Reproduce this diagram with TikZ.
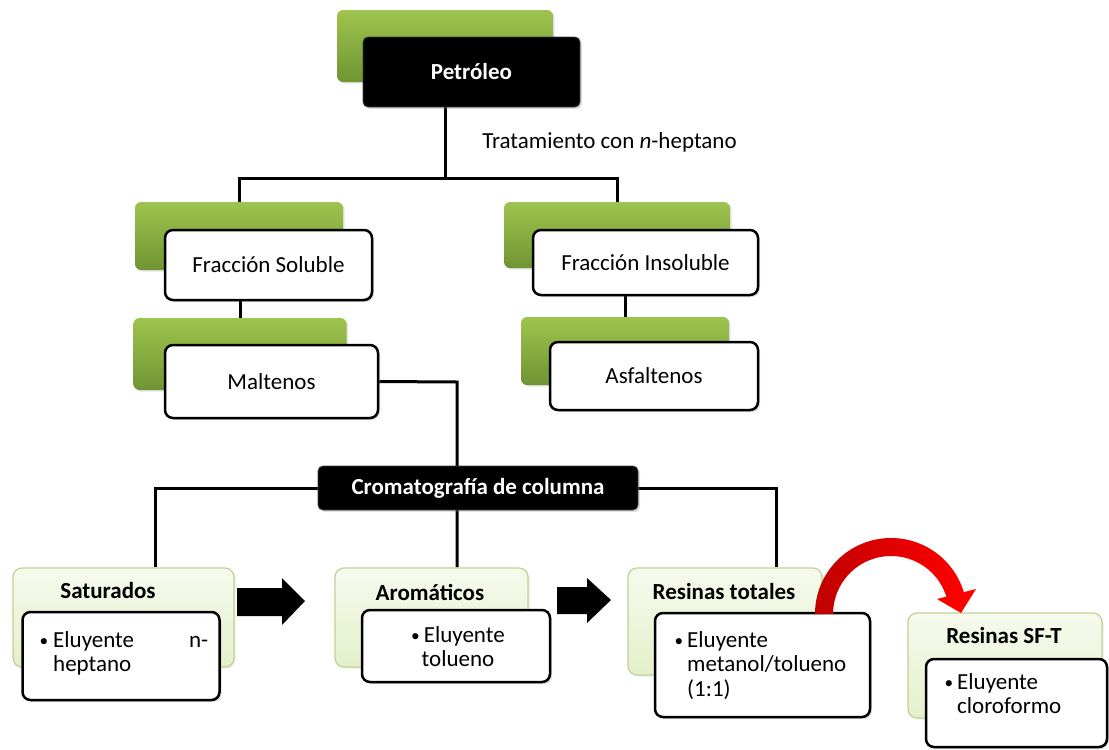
\documentclass[tikz,border=0pt]{standalone}
\usepackage{fontspec}
\setmainfont{Carlito}
\usetikzlibrary{backgrounds,shadows}
\definecolor{gtop}{RGB}{158,196,78}
\definecolor{gbot}{RGB}{112,148,50}
\definecolor{lgtop}{RGB}{246,250,238}
\definecolor{lgbot}{RGB}{228,240,202}
\definecolor{lgdraw}{RGB}{190,212,145}
\definecolor{rdark}{RGB}{192,0,0}
\definecolor{rbright}{RGB}{255,0,0}
\newcommand{\smbullet}{\raisebox{0.5pt}{\scalebox{0.75}{\textbullet}}}
\begin{document}
\begin{tikzpicture}[x=1pt,y=-1pt,
  every node/.style={font=\fontsize{23}{24.5}\selectfont, inner sep=0pt},
  greenback/.style={rounded corners=6pt, top color=gtop, bottom color=gbot, draw=none,
    drop shadow={shadow xshift=1.5pt,shadow yshift=-1.5pt,opacity=0.2}},
  frontbox/.style={draw=black, line width=2.5pt, fill=white, rounded corners=8pt,
    drop shadow={shadow xshift=2pt,shadow yshift=-2pt,opacity=0.25}},
  blackbox/.style={fill=black, draw=black!75, line width=0.8pt, rounded corners=5pt, text=white,
    font=\fontsize{23}{24.5}\selectfont\bfseries,
    drop shadow={shadow xshift=2pt,shadow yshift=-2pt,opacity=0.25}},
  lightbox/.style={draw=lgdraw, line width=1.2pt, top color=lgtop, bottom color=lgbot, rounded corners=9pt,
    drop shadow={shadow xshift=1.5pt,shadow yshift=-1.5pt,opacity=0.15}},
  titletext/.style={font=\fontsize{23}{24.5}\selectfont\bfseries},
  conn/.style={line width=3pt, black},
  itemtext/.style={anchor=north west, align=left},
]
\useasboundingbox (0,0) rectangle (1109,750);

% --- Petroleo
\node[greenback, minimum width=216, minimum height=72] (petB) at (445,46) {};
\node[blackbox, minimum width=217, minimum height=70] (pet) at (471.5,72) {Petróleo};
\node (trat) at (609.5,142) {Tratamiento con \textit{n}-heptano};
\coordinate (j1) at (445,178);

% --- Fraccion soluble / insoluble
\node[greenback, minimum width=208, minimum height=68] (fsB) at (239,236) {};
\node[frontbox, minimum width=207, minimum height=70] (fs) at (268.5,265) {Fracción Soluble};
\node[greenback, minimum width=226, minimum height=66] (fiB) at (617,235) {};
\node[frontbox, minimum width=225, minimum height=65] (fi) at (645.5,262.5) {Fracción Insoluble};

% --- Maltenos / Asfaltenos
\node[greenback, minimum width=213, minimum height=72] (mB) at (240,354) {};
\node[frontbox, minimum width=213, minimum height=73] (m) at (271.5,381.5) {Maltenos};
\node[greenback, minimum width=208, minimum height=68] (aB) at (625,351) {};
\node[frontbox, minimum width=208, minimum height=68] (a) at (654,376) {Asfaltenos};
\coordinate (j2) at (457,382);

% --- Cromatografia
\node[blackbox, minimum width=320, minimum height=44] (crom) at (478,488) {Cromatografía de columna};
\coordinate (jl) at (155,488);
\coordinate (jr) at (776,488);

% --- Saturados
\node[lightbox, minimum width=221, minimum height=99] (satB) at (123.5,617.5) {};
\node[titletext] (satT) at (108,591) {Saturados};
\node[frontbox, minimum width=197, minimum height=88] (sat) at (121,656) {};
\node[itemtext] (satX) at (53,631) {\llap{\smbullet\hspace{5pt}}\makebox[155pt][l]{Eluyente\hfill n-}\\heptano};

% --- Aromaticos
\node[lightbox, minimum width=193, minimum height=99] (arB) at (431.5,617.5) {};
\node[titletext] (arT) at (430,592) {Aromáticos};
\node[frontbox, minimum width=188, minimum height=72] (ar) at (456,646) {};
\node[anchor=north, align=center] (arX) at (458,626) {\smbullet\hspace{4pt}Eluyente\\tolueno};

% --- Resinas totales
\node[lightbox, minimum width=194, minimum height=107] (rtB) at (725,621.5) {};
\node[titletext] (rtT) at (724,592) {Resinas totales};
\node[frontbox, minimum width=215, minimum height=104] (rt) at (762.5,665) {};
\node[itemtext] (rtX) at (687,631) {\llap{\smbullet\hspace{4pt}}Eluyente\\metanol/tolueno\\(1:1)};

% --- Resinas SF-T
\node[lightbox, minimum width=194, minimum height=105] (sfB) at (1005,665.5) {};
\node[titletext] (sfT) at (1004,636) {Resinas SF-T};
\node[frontbox, minimum width=181, minimum height=88] (sf) at (1016.5,703) {};
\node[itemtext] (sfX) at (957,673) {\llap{\smbullet\hspace{4pt}}Eluyente\\cloroformo};

% --- black block arrows
\fill[black] (237,588) -- (282,588) -- (282,578) -- (305,601) -- (282,625) -- (282,616) -- (237,616) -- cycle;
\fill[black] (557,587) -- (587,587) -- (587,578) -- (611,600) -- (587,623) -- (587,614) -- (557,614) -- cycle;

% --- red curved arrow
\shade[left color=rdark, right color=rbright]
  (815,614) arc[start angle=180, end angle=16, radius=76pt]
  -- (946.8,598) arc[start angle=16, end angle=180, radius=58pt] -- cycle;
\fill[rbright] (937,599) -- (976,589) -- (961,613) -- cycle;

% --- connectors
\begin{pgfonlayer}{background}
\fill[white] (0,0) rectangle (1109,750);
\draw[conn] (petB.center |- pet.south) -- (j1);
\draw[conn] (fsB.north) -- (fsB.north |- j1) -- (fiB.north |- j1) -- (fiB.north);
\draw[conn] (mB.center |- fs.south) -- (mB.north);
\draw[conn] (aB.center |- fi.south) -- (aB.north);
\draw[conn] (m.east) -- (j2) -- (j2 |- arB.north);
\draw[conn] (jl |- satB.north) -- (jl) -- (jr) -- (jr |- rtB.north);
\end{pgfonlayer}
\end{tikzpicture}
\end{document}
